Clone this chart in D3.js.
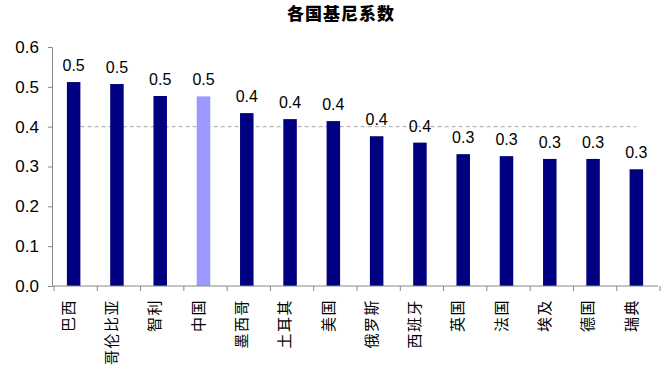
<!DOCTYPE html>
<html>
<head>
<meta charset="utf-8">
<script src="https://d3js.org/d3.v7.min.js"></script>
<style>
body { margin: 0; background: #fff; }
</style>
</head>
<body>
<script>
// countries and their gini values
const countries = ["巴西", "哥伦比亚", "智利", "中国", "墨西哥", "土耳其", "美国", "俄罗斯", "西班牙", "英国", "法国", "埃及", "德国", "瑞典"];
const gini = [0.512, 0.507, 0.477, 0.476, 0.434, 0.419, 0.414, 0.376, 0.360, 0.331, 0.326, 0.319, 0.319, 0.293];
const yTicks = [0, 0.1, 0.2, 0.3, 0.4, 0.5, 0.6];
const refLine = 0.4;
const highlight = "中国";

const width = 664;
const height = 375;

var svg = d3.select("body")
  .append("svg")
  .attr("width", width)
  .attr("height", height);

var x = d3.scaleBand()
  .domain(countries)
  .range([52, 658])
  .padding(0);

var y = d3.scaleLinear()
  .domain([0, 0.6])
  .range([286, 47]);

const barW = 13.5;

// title
svg.append("text")
  .attr("x", 341)
  .attr("y", 20)
  .attr("text-anchor", "middle")
  .style("font-family", "'Noto Sans CJK SC', sans-serif")
  .style("font-size", "17px")
  .style("font-weight", "900")
  .style("letter-spacing", "1px")
  .text("各国基尼系数");

// dashed reference line at 0.4
svg.append("line")
  .attr("x1", x(countries[0]) + x.bandwidth() / 2)
  .attr("x2", x(countries[countries.length - 1]) + x.bandwidth() / 2)
  .attr("y1", y(refLine))
  .attr("y2", y(refLine))
  .attr("stroke", "#a6a6a6")
  .attr("stroke-width", 1)
  .attr("stroke-dasharray", "4,3");

// bars
svg.selectAll("rect.bar")
  .data(countries)
  .enter()
  .append("rect")
  .attr("class", "bar")
  .attr("x", function (d) { return x(d) + x.bandwidth() / 2 - barW / 2; })
  .attr("y", function (d, i) { return y(gini[i]); })
  .attr("width", barW)
  .attr("height", function (d, i) { return y(0) - y(gini[i]); })
  .attr("fill", function (d) { return d == highlight ? "#9999ff" : "#000080"; });

// value labels
svg.selectAll("text.val")
  .data(countries)
  .enter()
  .append("text")
  .attr("class", "val")
  .attr("x", function (d) { return x(d) + x.bandwidth() / 2; })
  .attr("y", function (d, i) { return y(gini[i]) - 11; })
  .attr("text-anchor", "middle")
  .style("font-family", "'Liberation Sans', Arial, sans-serif")
  .style("font-size", "16px")
  .text(function (d, i) { return d3.format(".1f")(gini[i]); });

// y axis
var y_axis = d3.axisLeft(y)
  .tickValues(yTicks)
  .tickFormat(d3.format(".1f"))
  .tickSize(4)
  .tickPadding(9);

var gy = svg.append("g")
  .attr("transform", "translate(52,0)")
  .call(y_axis);
gy.selectAll("path, line").attr("stroke", "#888");
gy.selectAll("text")
  .style("font-family", "'Liberation Sans', Arial, sans-serif")
  .style("font-size", "17px")
  .attr("fill", "#000");

// x axis: ticks sit between the categories
var gx = svg.append("g")
  .attr("transform", "translate(0,286)");
gx.append("line")
  .attr("x1", 52).attr("x2", 658)
  .attr("stroke", "#888");
gx.selectAll("line.tick")
  .data(countries.concat(["end"]))
  .enter()
  .append("line")
  .attr("class", "tick")
  .attr("x1", function (d, i) { return x.range()[0] + i * x.bandwidth() + 2; })
  .attr("x2", function (d, i) { return x.range()[0] + i * x.bandwidth() + 2; })
  .attr("y1", 0).attr("y2", 5)
  .attr("stroke", "#888");

// rotated category labels
svg.selectAll("text.cat")
  .data(countries)
  .enter()
  .append("text")
  .attr("class", "cat")
  .attr("transform", function (d) {
    return "translate(" + (x(d) + x.bandwidth() / 2 - 5) + ",299) rotate(-90)";
  })
  .attr("dy", "0.35em")
  .attr("text-anchor", "end")
  .style("font-family", "'Noto Sans CJK SC', sans-serif")
  .style("font-size", "15px")
  .style("letter-spacing", "1.5px")
  .text(function (d) { return d; });
</script>
</body>
</html>
